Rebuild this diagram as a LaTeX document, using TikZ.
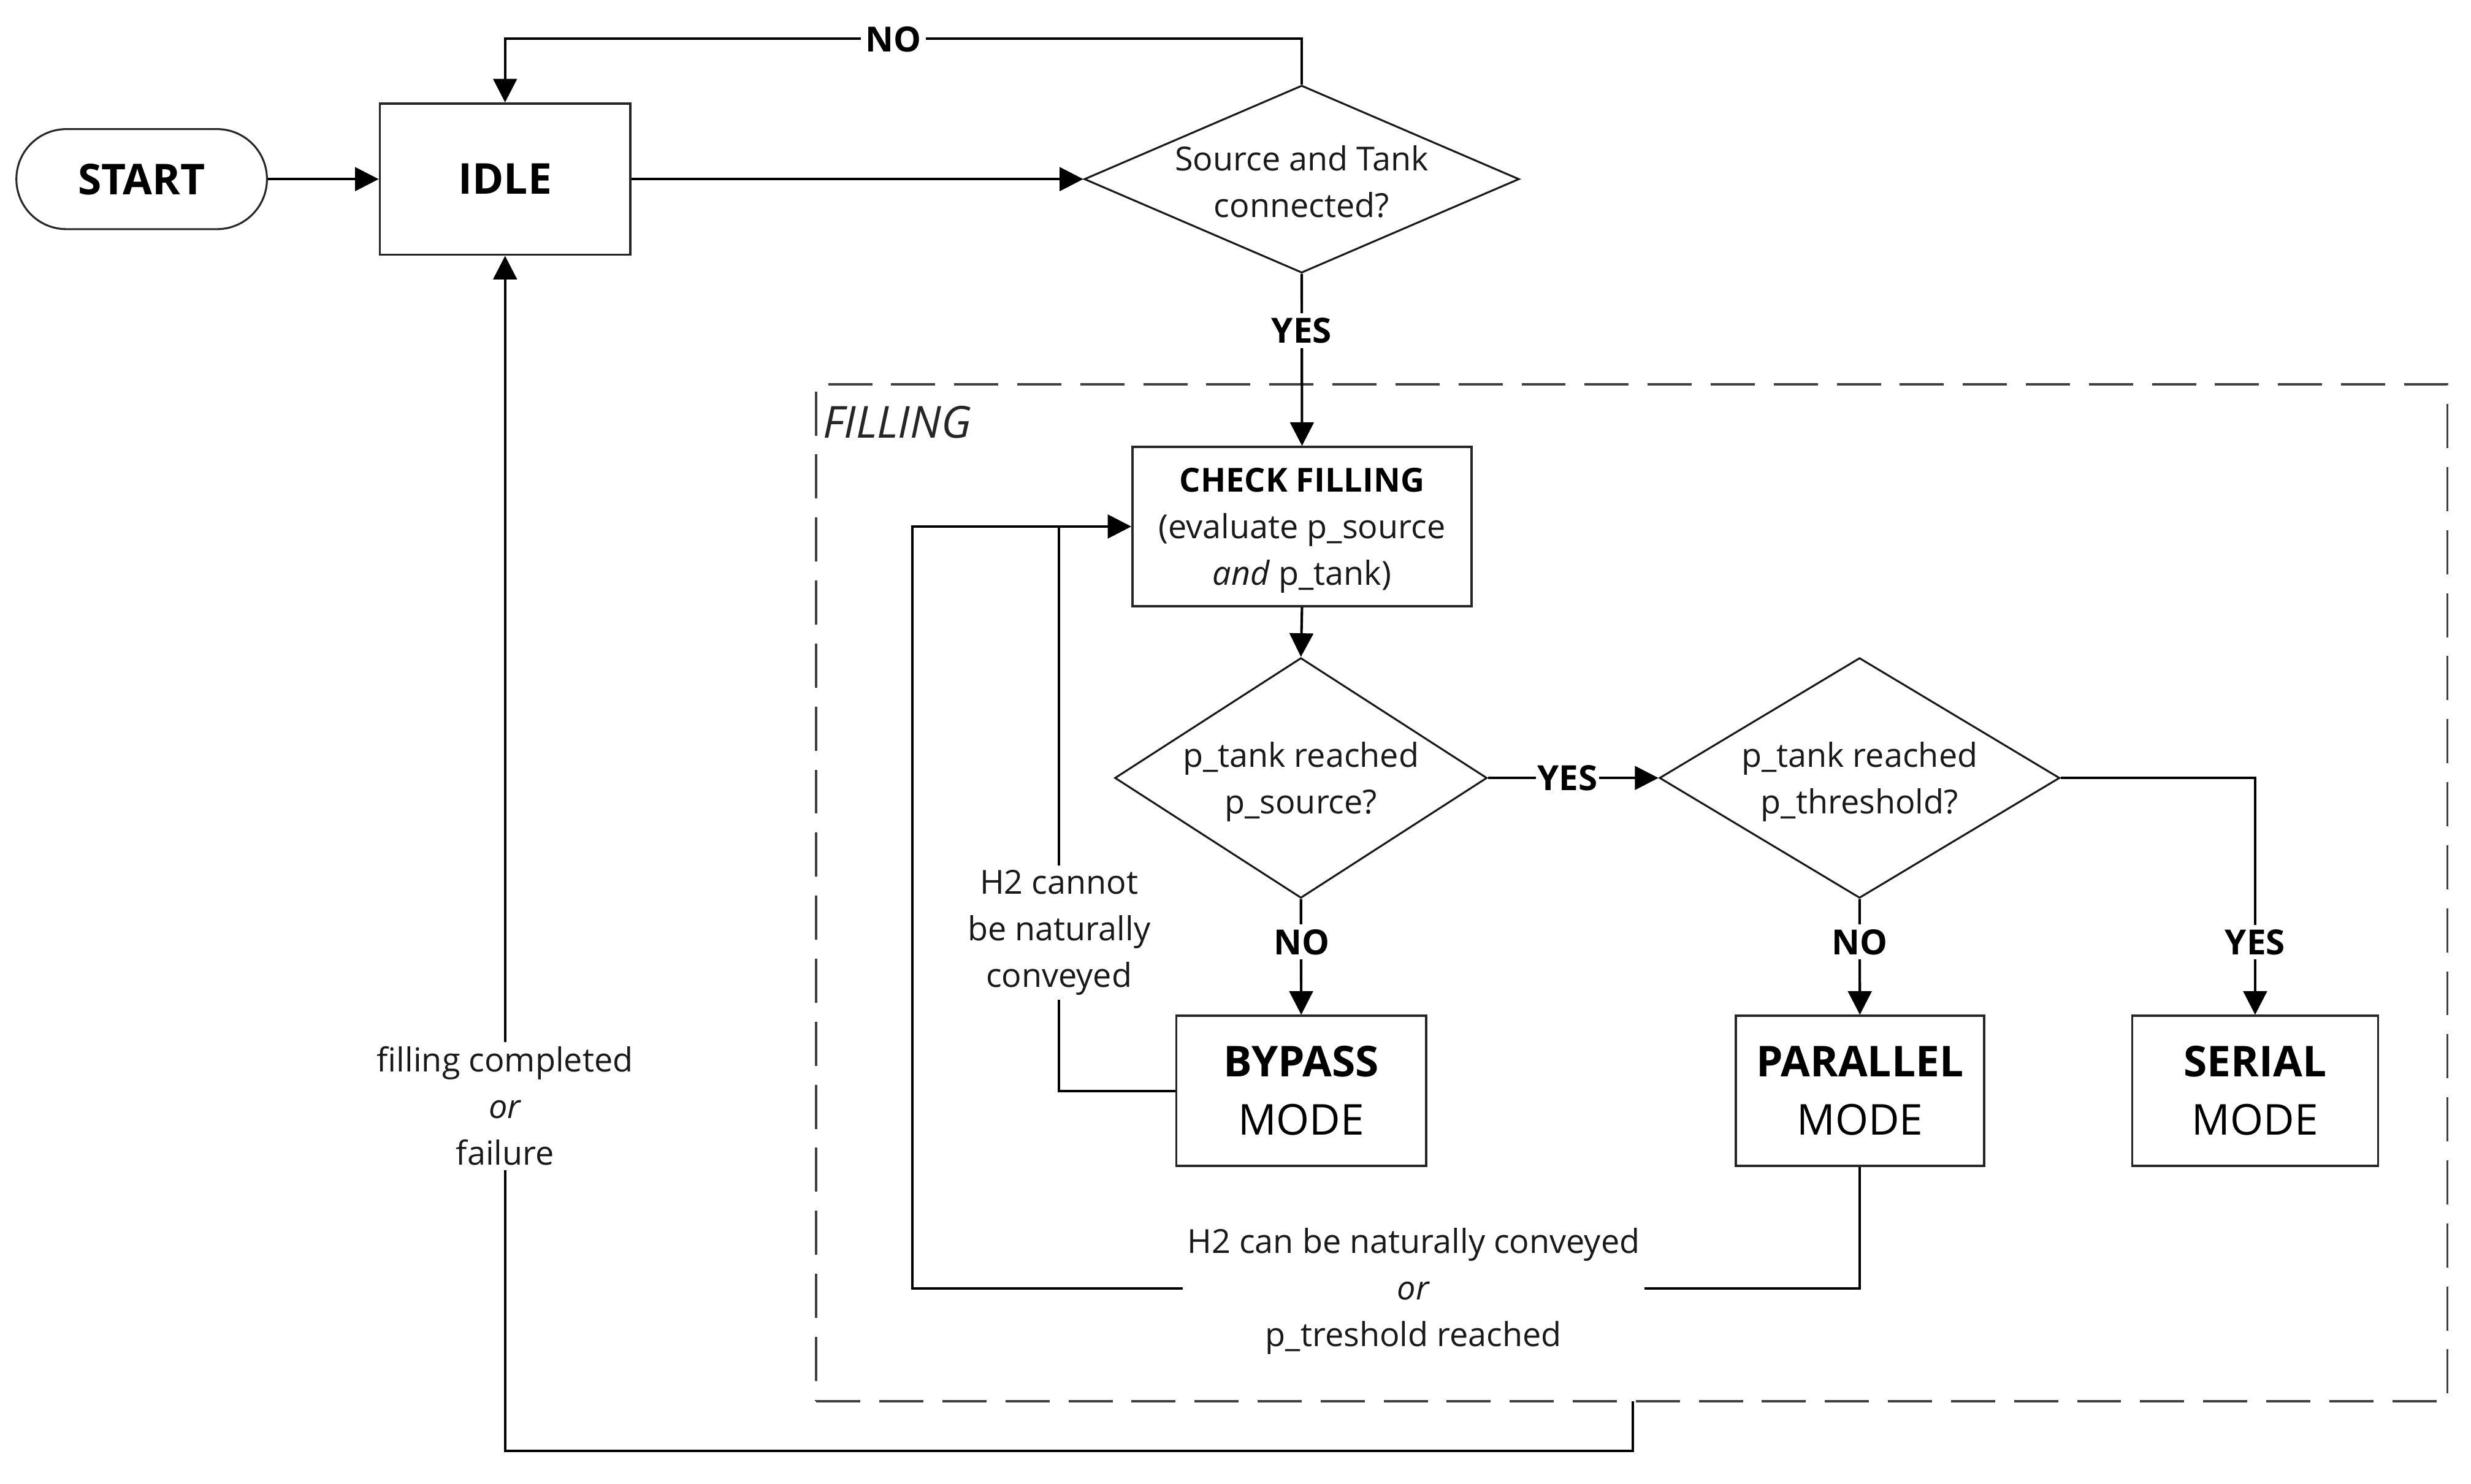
\documentclass[tikz,border=0pt]{standalone}
\usepackage{fontspec}
\setmainfont{Open Sans}
\usetikzlibrary{arrows.meta,shapes.geometric,calc}
\newcommand\txtn{\fontsize{21}{29.5}\selectfont}
\newcommand\txtlbl{\fontsize{22}{29.5}\selectfont\bfseries}
\newcommand\txtbig{\fontsize{27}{37}\selectfont}
\begin{document}
\begin{tikzpicture}[x=1pt,y=-1pt,
  conn/.style={line width=1.6pt, draw=black},
  arr/.style={conn, -{Triangle[length=15pt,width=15pt]}},
  boxnode/.style={draw=black!85, line width=1.4pt, fill=white, rectangle, inner sep=0pt, align=center, text=black},
  dia/.style={draw=black!90, line width=1.2pt, fill=white, diamond, inner sep=0pt},
  dtext/.style={align=center, font=\txtn, text=black!90, inner sep=0pt, yshift=-2.5pt},
  lbl/.style={fill=white, inner sep=3pt, font=\txtlbl, text=black},
  nlbl/.style={fill=white, inner sep=3pt, align=center, font=\txtn, text=black!90},
]
\useasboundingbox (0,0) rectangle (1568,941.6);
\fill[white] (0,0) rectangle (1568,941.6);

% filling container
\node[draw=black!75, line width=1.5pt, dash pattern=on 28pt off 12pt, rectangle, inner sep=0pt,
      minimum width=1035pt, minimum height=645.5pt] (filling) at (1035.5,566.75) {};
\node[anchor=west, font=\fontsize{28}{37}\selectfont\itshape, text=black!85, inner sep=0pt] (fillingt) at (522,268) {FILLING};

% nodes
\node[boxnode, rounded corners=31.7pt, line width=1.2pt, minimum width=159pt, minimum height=63.5pt, font=\txtbig\bfseries] (start) at (89.9,113.7) {START};
\node[boxnode, minimum width=159pt, minimum height=96pt, font=\txtbig\bfseries] (idle) at (320.5,113.7) {IDLE};
\node[dia, minimum width=276pt, minimum height=119pt] (d1) at (826,113.7) {};
\node[dtext, yshift=1pt] (d1t) at (d1) {Source and Tank\\connected?};

\node[boxnode, minimum width=215.2pt, minimum height=101pt] (check) at (826.2,334.2) {};
\node[dtext, text=black] (checkt) at (check) {\textbf{CHECK FILLING}\\\color{black!90}(evaluate p\_source\\\color{black!90}\textit{and} p\_tank)};

\node[dia, minimum width=236.2pt, minimum height=152.5pt] (d2) at (825.5,493.8) {};
\node[dtext] (d2t) at (d2) {p\_tank reached\\p\_source?};
\node[dia, minimum width=254pt, minimum height=152.5pt] (d3) at (1180,493.8) {};
\node[dtext] (d3t) at (d3) {p\_tank reached\\p\_threshold?};

\node[boxnode, minimum width=158.6pt, minimum height=95.2pt, font=\txtbig] (bypass) at (825.7,692.4) {\textbf{BYPASS}\\MODE};
\node[boxnode, minimum width=157.5pt, minimum height=95.2pt, font=\txtbig] (parallel) at (1180.2,692.4) {\textbf{PARALLEL}\\MODE};
\node[boxnode, minimum width=156pt, minimum height=95.2pt, font=\txtbig] (serial) at (1431,692.4) {\textbf{SERIAL}\\MODE};

% helper coordinates
\coordinate (jn) at (672,334.2);
\coordinate (ol) at (579,334.2);
\coordinate (obl) at (579,817.8);
\coordinate (fb) at (1036,889.5);

% connectors
\draw[arr] (start.east) -- (idle.west);
\draw[arr] (idle.east) -- (d1.west);
\draw[arr] (d1.north) -- ++(0,-29) -| (idle.north);
\draw[arr] (d1.south) -- (check.north);
\draw[arr] (check.south) -- (d2.north);
\draw[arr] (d2.east) -- (d3.west);
\draw[arr] (d3.east) -| (serial.north);
\draw[arr] (d2.south) -- (bypass.north);
\draw[arr] (d3.south) -- (parallel.north);
\draw[conn] (parallel.south) |- (obl) -- (ol) -- (jn);
\draw[arr] (bypass.west) -| (jn) -- (check.west);
\draw[arr] (fb) -- ++(0,31.5) -| (idle.south);

% labels
\node[lbl] (lno1) at (567,25) {NO};
\node[lbl] (lyes1) at (826,210) {YES};
\node[lbl, inner xsep=1pt] (lyes2) at (994.6,494) {YES};
\node[lbl] (lno2) at (826,598) {NO};
\node[lbl] (lno3) at (1180,598) {NO};
\node[lbl] (lyes3) at (1431,598) {YES};
\node[nlbl, yshift=-2pt] (lh2a) at (672,590) {H2 cannot\\be naturally\\conveyed};
\node[nlbl, yshift=-1.5pt] (lh2b) at (897,818) {H2 can be naturally conveyed\\\textit{or}\\p\_treshold reached};
\node[nlbl] (lfc) at (320.5,702) {filling completed\\\textit{or}\\failure};
\end{tikzpicture}
\end{document}
